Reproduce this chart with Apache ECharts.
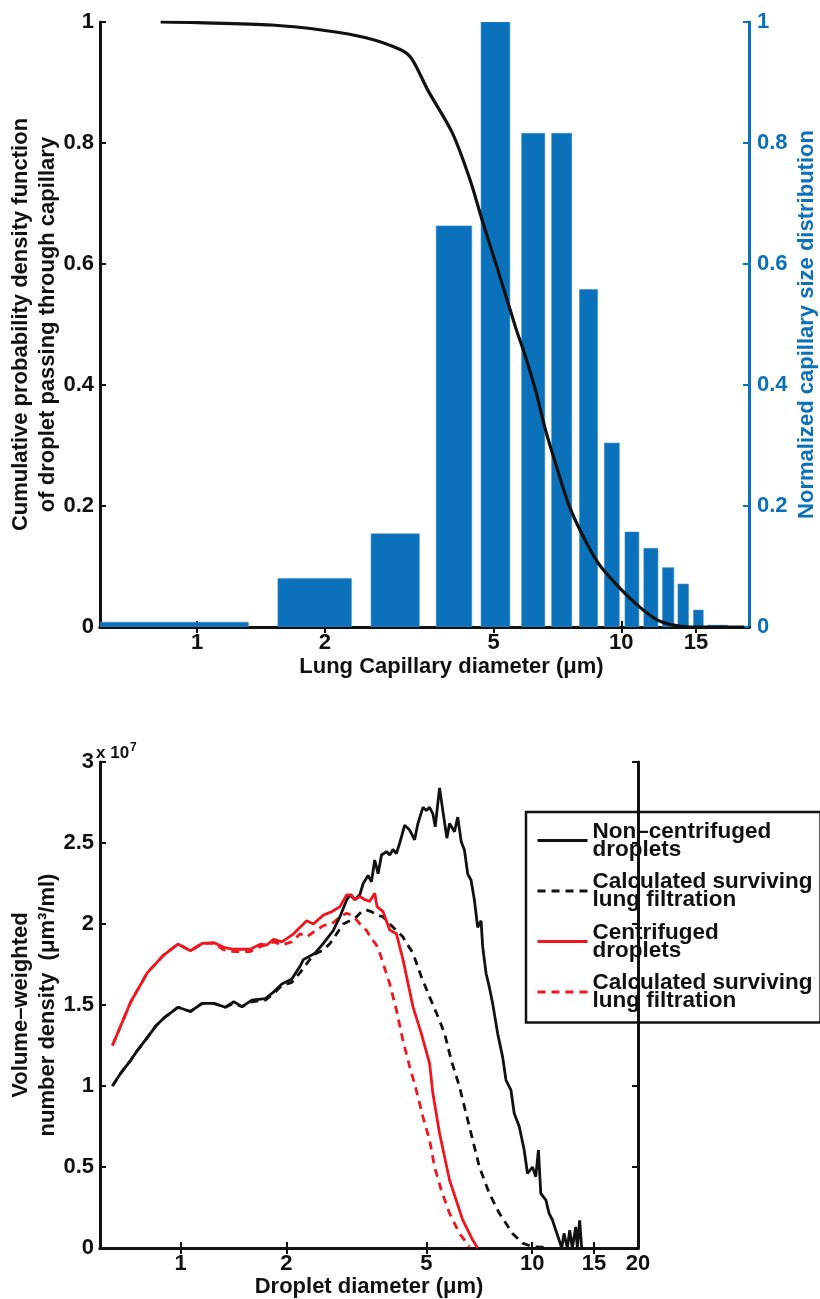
<!DOCTYPE html>
<html>
<head>
<meta charset="utf-8">
<script src="https://cdn.jsdelivr.net/npm/echarts@6/dist/echarts.min.js"></script>
<style>
html,body{margin:0;padding:0;background:#fff;}
#c{width:820px;height:1299px;}
</style>
</head>
<body>
<div id="c"></div>
<script>
// ---------------- DATA ----------------
// Top chart: x tick labels (log axis)
const topXTicks = [1, 2, 5, 10, 15];
const bottomXTicks = [1, 2, 5, 10, 15, 20];
const bottomTopTicks = [1, 2, 5, 10, 15];

// Capillary size distribution bins (μm) and normalized heights
const binLeft  = [0.59, 1.55, 2.57, 3.66, 4.67, 5.82, 6.85, 7.97, 9.12, 10.2, 11.3, 12.5, 13.6, 14.8, 16.0];
const binRight = [1.32, 2.31, 3.34, 4.44, 5.46, 6.60, 7.64, 8.79, 9.89, 11.0, 12.2, 13.3, 14.4, 15.6, 17.8];
const capDist  = [0.008, 0.080, 0.154, 0.663, 1.0, 0.816, 0.816, 0.558, 0.304, 0.157, 0.130, 0.098, 0.071, 0.028, 0.003];

// Cumulative probability of droplet passing through capillary
const cdfD = [0.82, 1.0, 1.5, 2.0, 2.5, 3.0, 3.2, 3.5, 4.0, 4.4, 4.7, 5.06, 5.64, 5.95, 6.28, 6.63, 7.0, 7.5, 8.06, 8.83, 9.68, 10.8, 12.0, 13.1, 14.5, 16.0, 19.5];
const cdfP = [1.0, 0.999, 0.995, 0.986, 0.974, 0.955, 0.94, 0.887, 0.816, 0.739, 0.672, 0.601, 0.494, 0.446, 0.391, 0.325, 0.270, 0.204, 0.155, 0.105, 0.072, 0.039, 0.014, 0.004, 0.0, 0.0, 0.0];

// Bottom chart (values in units of 1e7 μm³/ml)
const nonCentD = [0.64,0.676,0.722,0.754,0.805,0.85,0.897,0.983,1.067,1.152,1.243,1.341,1.416,1.496,1.596,1.741,1.838,1.941,2.072,2.188,2.235,2.412,2.547,2.719,2.84,2.967,3.031,3.131,3.235,3.306,3.416,3.491,3.566,3.646,3.728,3.851,3.935,4.02,4.11,4.201,4.34,4.483,4.631,4.732,4.89,5.0,5.108,5.219,5.301,5.452,5.571,5.72,5.821,6.012,6.143,6.281,6.418,6.557,6.703,6.85,6.998,7.157,7.232,7.394,7.555,7.719,7.976,8.24,8.424,8.703,8.892,9.189,9.491,9.698,10.02,10.24,10.42,10.58,10.94,11.17,11.42,11.67,11.93,12.14,12.32,12.59,12.79,13.01,13.3,13.44,13.65,13.83];
const nonCentV = [1.00,1.08,1.16,1.22,1.30,1.37,1.42,1.486,1.46,1.51,1.51,1.486,1.52,1.49,1.53,1.54,1.58,1.63,1.66,1.74,1.78,1.82,1.88,1.96,2.045,2.148,2.18,2.15,2.18,2.25,2.30,2.26,2.395,2.31,2.426,2.447,2.426,2.46,2.435,2.50,2.61,2.58,2.52,2.62,2.72,2.70,2.72,2.68,2.60,2.84,2.70,2.53,2.62,2.57,2.66,2.51,2.457,2.31,2.27,2.148,1.98,2.02,1.86,1.696,1.61,1.51,1.325,1.18,1.037,0.975,0.83,0.75,0.605,0.46,0.50,0.44,0.605,0.337,0.296,0.214,0.173,0.111,0.049,0,0.09,0,0.11,0,0.13,0,0.17,0];

const nonCentSurvD = [0.64,0.676,0.722,0.754,0.805,0.85,0.897,0.983,1.067,1.152,1.243,1.341,1.416,1.496,1.596,1.741,1.838,1.941,2.072,2.188,2.386,2.547,2.661,2.779,2.901,3.031,3.166,3.271,3.381,3.491,3.607,3.767,3.935,4.11,4.292,4.34,4.581,4.838,5.108,5.392,5.635,5.886,6.212,6.489,6.775,7.078,7.555,8.065,8.794,9.386,10.02,10.67,11.0];
const nonCentSurvV = [1.00,1.08,1.16,1.22,1.30,1.37,1.42,1.486,1.46,1.51,1.51,1.486,1.51,1.49,1.52,1.53,1.57,1.62,1.64,1.70,1.81,1.84,1.88,1.94,2.0,2.02,2.045,2.076,2.086,2.076,2.055,2.045,2.0,1.96,1.92,1.90,1.82,1.675,1.55,1.43,1.325,1.16,0.996,0.83,0.667,0.50,0.337,0.214,0.09,0.03,0.008,0.005,0.0];

const centD = [0.64,0.722,0.805,0.897,0.983,1.067,1.152,1.243,1.327,1.416,1.578,1.685,1.76,1.838,1.941,2.094,2.188,2.285,2.386,2.547,2.69,2.84,2.967,3.064,3.131,3.235,3.344,3.452,3.566,3.622,3.767,3.935,4.11,4.292,4.581,4.838,5.108,5.219,5.452,5.821,6.346,6.775,7.0];
const centV = [1.25,1.52,1.70,1.81,1.876,1.835,1.88,1.885,1.856,1.844,1.844,1.875,1.87,1.906,1.89,1.938,1.98,2.02,2.0,2.055,2.076,2.107,2.179,2.179,2.15,2.17,2.15,2.14,2.19,2.107,2.076,1.963,1.94,1.78,1.49,1.325,1.14,0.955,0.708,0.42,0.173,0.049,0.0];

const centSurvD = [0.64,0.722,0.805,0.897,0.983,1.067,1.152,1.243,1.327,1.416,1.578,1.685,1.838,1.941,2.072,2.188,2.285,2.386,2.547,2.69,2.84,2.967,3.064,3.166,3.271,3.381,3.491,3.607,3.687,3.935,4.11,4.292,4.483,4.682,4.89,5.108,5.277,5.513,5.821,6.212,6.63];
const centSurvV = [1.25,1.52,1.70,1.81,1.876,1.835,1.88,1.88,1.84,1.83,1.83,1.86,1.89,1.87,1.89,1.94,1.92,1.95,1.99,2.0,2.045,2.066,2.055,2.025,1.99,1.96,1.91,1.87,1.82,1.63,1.47,1.28,1.12,0.975,0.81,0.667,0.50,0.358,0.214,0.09,0.008];

const seriesKeys = ['nonCent', 'nonCentSurv', 'cent', 'centSurv'];
const legendLabels = ['Non\u2013centrifuged\ndroplets', 'Calculated surviving\nlung filtration', 'Centrifuged\ndroplets', 'Calculated surviving\nlung filtration'];

// ---------------- CHART ----------------
const F = "'Liberation Sans', Arial, Helvetica, sans-serif";
const BLUE = '#0b71ba';
const BLACK = '#111111';
const RED = '#f0161e';
const pairs = (xs, ys) => xs.map((x, i) => [x, ys[i]]);
const fmtNum = v => String(+(+v).toPrecision(6));

function txt(color, extra) {
  return Object.assign({ fontFamily: F, fontSize: 22, fontWeight: 'bold', color: color }, extra || {});
}

function logX(gridIndex, position, labelVals, tickVals, name, nameGap, namePad, labelMargin) {
  return {
    type: 'log', logBase: 10, gridIndex: gridIndex, position: position,
    min: 0.59, max: 20,
    axisLine: { show: true, lineStyle: { color: BLACK, width: 3 } },
    axisTick: { show: true, inside: true, length: 6, customValues: tickVals, lineStyle: { color: BLACK, width: 2 } },
    axisLabel: labelVals ? Object.assign(txt(BLACK), { show: true, customValues: labelVals, margin: labelMargin, formatter: fmtNum }) : { show: false },
    splitLine: { show: false }, minorTick: { show: false }, minorSplitLine: { show: false },
    name: name || '', nameLocation: 'middle', nameGap: nameGap || 0, nameMoveOverlap: false,
    nameTextStyle: txt(BLACK, { padding: namePad || 0 })
  };
}

function valY(gridIndex, position, min, max, interval, color, showLabel, name, nameGap, z) {
  return {
    type: 'value', gridIndex: gridIndex, position: position, min: min, max: max, interval: interval,
    z: z || 0,
    axisLine: { show: true, lineStyle: { color: color, width: 3 } },
    axisTick: { show: true, inside: true, length: 6, lineStyle: { color: color, width: 2 } },
    axisLabel: showLabel ? Object.assign(txt(color), { margin: position === 'left' ? 6 : 8, formatter: fmtNum }) : { show: false },
    splitLine: { show: false },
    name: name || '', nameLocation: 'middle', nameGap: nameGap || 0, nameRotate: 90, nameMoveOverlap: false,
    nameTextStyle: txt(color, { lineHeight: 27 })
  };
}

const option = {
  animation: false,
  backgroundColor: '#fff',
  textStyle: { fontFamily: F },
  grid: [
    { left: 100, top: 22, width: 649, height: 605, show: false, containLabel: false, outerBoundsMode: 'none' },
    { left: 100, top: 762, width: 538, height: 486, show: false, containLabel: false, outerBoundsMode: 'none' }
  ],
  xAxis: [
    logX(0, 'bottom', topXTicks, topXTicks, 'Lung Capillary diameter (\u03bcm)', 29, [0, 0, 0, 54], 5),
    logX(0, 'top', null, topXTicks),
    logX(1, 'bottom', bottomXTicks, bottomTopTicks, 'Droplet diameter (\u03bcm)', 28, 0, 5),
    logX(1, 'top', null, bottomTopTicks)
  ],
  yAxis: [
    valY(0, 'left', 0, 1, 0.2, BLACK, true, 'Cumulative probability density function\nof droplet passing through capillary', 39),
    valY(0, 'right', 0, 1, 0.2, BLUE, true, 'Normalized capillary size distribution', 44),
    valY(1, 'left', 0, 3, 0.5, BLACK, true, 'Volume\u2013weighted\nnumber density  (\u03bcm\u00b3/ml)', 39),
    valY(1, 'right', 0, 3, 0.5, BLACK, false, '', 0, 10)
  ],
  legend: {
    data: seriesKeys,
    left: 526, top: 812, orient: 'vertical',
    backgroundColor: '#fff', borderColor: BLACK, borderWidth: 2.5, borderRadius: 0,
    padding: [8, 8, 10, 10],
    itemWidth: 50, itemHeight: 2, itemGap: 9.5,
    itemStyle: { opacity: 0 },
    lineStyle: { width: 3 },
    formatter: name => legendLabels[seriesKeys.indexOf(name)],
    textStyle: txt(BLACK, { lineHeight: 18, fontSize: 22.5 }),
    selectedMode: false
  },
  graphic: [
    {
      type: 'text', left: 96, top: 742, z: 20,
      style: {
        text: '{a|x 10}{b|7}',
        rich: {
          a: { fontFamily: F, fontSize: 17, fontWeight: 'bold', fill: BLACK, verticalAlign: 'bottom' },
          b: { fontFamily: F, fontSize: 12, fontWeight: 'bold', fill: BLACK, verticalAlign: 'top', padding: [0, 0, 8, 1] }
        }
      }
    }
  ],
  series: [
    {
      type: 'custom', name: 'capillary', xAxisIndex: 0, yAxisIndex: 1, z: 2, clip: true,
      encode: { x: [0, 1], y: 2 },
      data: binLeft.map((l, i) => [l, binRight[i], capDist[i]]),
      renderItem: function (params, api) {
        const p0 = api.coord([api.value(0), api.value(2)]);
        const p1 = api.coord([api.value(1), 0]);
        return {
          type: 'rect',
          shape: { x: p0[0], y: p0[1], width: p1[0] - p0[0], height: p1[1] - p0[1] },
          style: { fill: BLUE, stroke: '#3a8fcc', lineWidth: 0.6 }
        };
      }
    },
    {
      type: 'line', name: 'cdf', xAxisIndex: 0, yAxisIndex: 0, z: 3,
      data: pairs(cdfD, cdfP), symbol: 'none', smooth: 0.3,
      lineStyle: { color: BLACK, width: 3.2 }
    },
    {
      type: 'line', name: 'nonCent', xAxisIndex: 2, yAxisIndex: 2, z: 5,
      data: pairs(nonCentD, nonCentV), symbol: 'none',
      itemStyle: { color: BLACK },
      lineStyle: { color: BLACK, width: 2.8 }
    },
    {
      type: 'line', name: 'nonCentSurv', xAxisIndex: 2, yAxisIndex: 2, z: 4,
      data: pairs(nonCentSurvD, nonCentSurvV), symbol: 'none',
      itemStyle: { color: BLACK },
      lineStyle: { color: BLACK, width: 2.8, type: [8, 6] }
    },
    {
      type: 'line', name: 'cent', xAxisIndex: 2, yAxisIndex: 2, z: 5,
      data: pairs(centD, centV), symbol: 'none',
      itemStyle: { color: RED },
      lineStyle: { color: RED, width: 2.8 }
    },
    {
      type: 'line', name: 'centSurv', xAxisIndex: 2, yAxisIndex: 2, z: 4,
      data: pairs(centSurvD, centSurvV), symbol: 'none',
      itemStyle: { color: RED },
      lineStyle: { color: RED, width: 2.8, type: [8, 6] }
    }
  ]
};

const chart = echarts.init(document.getElementById('c'), null, { renderer: 'canvas' });
chart.setOption(option);
</script>
</body>
</html>
